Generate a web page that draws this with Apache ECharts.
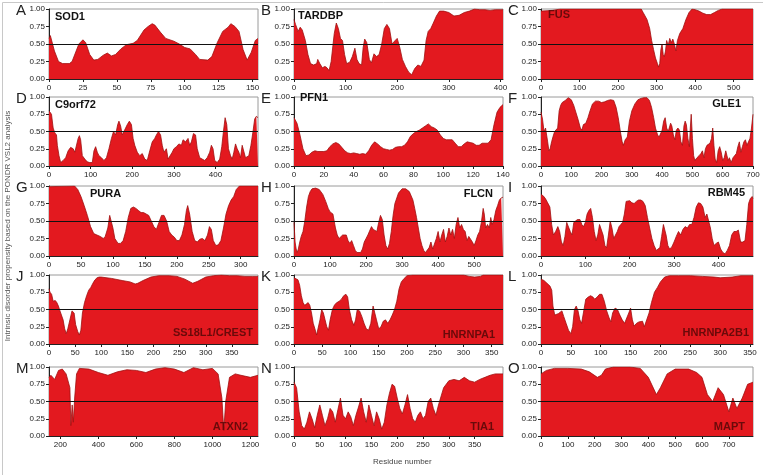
<!DOCTYPE html>
<html><head><meta charset="utf-8">
<script src="https://cdn.jsdelivr.net/npm/echarts@6/dist/echarts.min.js"></script>
<style>html,body{margin:0;padding:0;background:#fff}#c{width:763px;height:475px}</style>
</head><body><div id="c"></div>
<script>
// ---- data: [residue, disorder score] ----
const sod1 = [[0,0.58],[1,0.62],[4,0.40],[7,0.25],[8,0.24],[10,0.22],[15,0.22],[17,0.25],[20,0.40],[22,0.50],[25,0.56],[27,0.52],[30,0.35],[33,0.27],[36,0.28],[40,0.34],[43,0.37],[46,0.33],[49,0.35],[53,0.43],[57,0.49],[62,0.51],[65,0.55],[70,0.70],[73,0.75],[76,0.79],[78,0.77],[82,0.67],[86,0.58],[92,0.54],[96,0.50],[100,0.45],[104,0.43],[108,0.35],[111,0.28],[117,0.27],[120,0.32],[124,0.52],[128,0.68],[132,0.74],[134,0.79],[137,0.75],[140,0.68],[143,0.42],[146,0.27],[149,0.38],[152,0.55],[154,0.58]];
const tardbp = [[0,0.85],[3,0.78],[8,0.68],[12,0.74],[16,0.70],[22,0.55],[27,0.35],[32,0.22],[38,0.20],[44,0.22],[46,0.28],[50,0.22],[55,0.16],[60,0.18],[64,0.16],[68,0.12],[72,0.25],[78,0.65],[82,0.80],[86,0.72],[90,0.58],[94,0.55],[98,0.35],[102,0.22],[108,0.24],[113,0.32],[118,0.44],[122,0.28],[126,0.22],[131,0.20],[134,0.45],[137,0.57],[141,0.52],[146,0.28],[150,0.23],[155,0.36],[160,0.32],[165,0.35],[170,0.50],[175,0.72],[180,0.78],[185,0.72],[190,0.50],[196,0.55],[200,0.58],[205,0.45],[210,0.28],[216,0.18],[222,0.10],[228,0.06],[234,0.15],[240,0.20],[246,0.18],[252,0.27],[256,0.55],[260,0.68],[265,0.72],[270,0.80],[276,0.90],[282,0.97],[290,0.97],[300,0.95],[310,0.90],[320,0.91],[330,0.95],[340,0.97],[350,1.0],[360,0.99],[370,0.99],[380,0.98],[390,0.99],[405,0.99]];
const fus = [[0,0.97],[30,0.98],[50,1.0],[260,1.0],[265,0.95],[275,0.85],[282,0.72],[287,0.55],[292,0.42],[297,0.30],[302,0.22],[305,0.17],[308,0.22],[311,0.42],[314,0.50],[317,0.35],[320,0.32],[323,0.40],[326,0.55],[330,0.48],[334,0.58],[338,0.52],[342,0.57],[346,0.50],[350,0.40],[354,0.55],[360,0.65],[368,0.72],[376,0.85],[384,0.95],[392,1.0],[400,0.99],[410,0.97],[420,0.94],[430,0.92],[440,0.92],[450,0.95],[460,0.98],[470,1.0],[550,1.0]];
const c9orf72 = [[0,0.80],[3,0.82],[6,0.75],[10,0.55],[14,0.48],[18,0.45],[20,0.30],[24,0.15],[28,0.05],[34,0.08],[40,0.12],[46,0.22],[52,0.27],[58,0.25],[62,0.20],[66,0.22],[70,0.40],[73,0.44],[76,0.38],[80,0.15],[86,0.10],[92,0.06],[98,0.05],[104,0.05],[108,0.22],[112,0.28],[116,0.20],[120,0.15],[126,0.12],[132,0.08],[138,0.12],[144,0.25],[150,0.40],[155,0.50],[160,0.45],[165,0.60],[168,0.65],[172,0.58],[176,0.45],[180,0.50],[184,0.55],[188,0.60],[193,0.65],[198,0.60],[202,0.40],[206,0.30],[212,0.20],[218,0.15],[224,0.18],[230,0.10],[236,0.08],[242,0.22],[248,0.35],[254,0.40],[258,0.45],[263,0.50],[268,0.45],[272,0.30],[276,0.20],[282,0.25],[286,0.10],[290,0.08],[296,0.20],[300,0.25],[306,0.28],[312,0.32],[318,0.30],[322,0.38],[328,0.35],[334,0.40],[338,0.30],[342,0.35],[347,0.47],[352,0.45],[356,0.25],[362,0.12],[368,0.10],[374,0.08],[380,0.12],[386,0.20],[390,0.30],[394,0.25],[398,0.08],[404,0.05],[410,0.10],[415,0.28],[419,0.50],[423,0.70],[427,0.60],[431,0.25],[436,0.15],[440,0.10],[444,0.20],[448,0.32],[452,0.25],[456,0.20],[460,0.12],[464,0.30],[468,0.28],[472,0.12],[476,0.10],[480,0.15],[485,0.30],[490,0.50],[494,0.68],[498,0.72],[502,0.70]];
const pfn1 = [[0,0.70],[2,0.62],[4,0.45],[6,0.25],[8,0.15],[10,0.16],[12,0.20],[14,0.22],[16,0.21],[20,0.21],[22,0.22],[24,0.28],[26,0.32],[28,0.34],[30,0.32],[32,0.27],[34,0.22],[36,0.19],[38,0.18],[40,0.19],[42,0.18],[44,0.17],[46,0.18],[48,0.17],[50,0.22],[52,0.30],[54,0.35],[56,0.32],[58,0.28],[60,0.25],[62,0.24],[64,0.23],[66,0.24],[68,0.27],[70,0.28],[72,0.28],[74,0.30],[76,0.35],[78,0.43],[80,0.47],[82,0.50],[84,0.52],[86,0.55],[88,0.58],[90,0.61],[92,0.57],[94,0.55],[96,0.52],[98,0.45],[100,0.40],[102,0.38],[106,0.38],[108,0.33],[110,0.28],[112,0.28],[114,0.32],[116,0.35],[118,0.34],[120,0.33],[122,0.30],[124,0.30],[126,0.33],[128,0.33],[130,0.33],[132,0.38],[134,0.60],[136,0.78],[138,0.85],[140,0.89]];
const gle1 = [[0,0.78],[5,0.68],[10,0.50],[15,0.55],[18,0.55],[22,0.35],[26,0.22],[30,0.25],[35,0.35],[40,0.43],[45,0.50],[50,0.48],[55,0.55],[60,0.80],[65,0.88],[70,0.92],[80,0.95],[90,0.99],[100,0.96],[108,0.88],[115,0.78],[122,0.68],[130,0.55],[135,0.52],[140,0.60],[148,0.62],[155,0.70],[162,0.80],[170,0.90],[180,0.94],[190,0.94],[200,0.92],[210,0.93],[220,0.95],[230,0.96],[240,0.95],[248,0.85],[255,0.70],[262,0.50],[268,0.35],[272,0.30],[278,0.38],[285,0.42],[292,0.65],[300,0.80],[310,0.90],[320,0.96],[330,0.98],[340,0.99],[350,0.99],[358,0.95],[365,0.85],[372,0.70],[378,0.55],[385,0.45],[390,0.42],[395,0.40],[400,0.52],[405,0.65],[410,0.70],[415,0.55],[420,0.50],[425,0.48],[428,0.62],[432,0.58],[437,0.45],[442,0.38],[447,0.52],[452,0.55],[457,0.52],[462,0.35],[467,0.30],[472,0.58],[476,0.65],[480,0.60],[485,0.40],[490,0.28],[493,0.55],[496,0.75],[500,0.40],[504,0.15],[508,0.08],[515,0.12],[522,0.15],[528,0.18],[533,0.22],[538,0.12],[543,0.25],[548,0.30],[553,0.28],[558,0.33],[563,0.40],[567,0.55],[571,0.30],[575,0.10],[580,0.05],[585,0.22],[590,0.28],[595,0.20],[600,0.08],[605,0.12],[610,0.22],[614,0.15],[618,0.08],[622,0.12],[628,0.05],[634,0.12],[640,0.10],[645,0.18],[650,0.28],[655,0.35],[660,0.20],[665,0.28],[670,0.35],[675,0.38],[680,0.30],[685,0.35],[690,0.40],[695,0.55],[700,0.75]];
const pura = [[0,0.99],[40,1.0],[45,0.95],[50,0.85],[55,0.72],[60,0.58],[65,0.42],[70,0.32],[75,0.30],[80,0.28],[85,0.25],[88,0.28],[92,0.40],[95,0.58],[97,0.59],[100,0.40],[103,0.25],[108,0.18],[112,0.18],[116,0.22],[120,0.35],[124,0.55],[128,0.68],[132,0.70],[136,0.68],[140,0.65],[144,0.62],[148,0.62],[152,0.60],[156,0.58],[160,0.50],[164,0.42],[168,0.38],[172,0.48],[176,0.58],[180,0.58],[184,0.50],[188,0.35],[192,0.30],[196,0.27],[200,0.22],[204,0.22],[208,0.30],[212,0.45],[215,0.65],[217,0.72],[220,0.60],[224,0.35],[228,0.22],[232,0.20],[236,0.24],[240,0.25],[244,0.22],[248,0.30],[251,0.42],[254,0.38],[257,0.22],[261,0.15],[265,0.16],[269,0.22],[273,0.40],[277,0.60],[281,0.72],[285,0.80],[289,0.85],[293,0.95],[298,1.0],[327,1.0]];
const flcn = [[0,0.48],[3,0.20],[6,0.10],[9,0.05],[12,0.10],[16,0.20],[20,0.28],[25,0.35],[30,0.50],[35,0.70],[40,0.85],[45,0.92],[50,0.96],[60,0.97],[70,0.95],[80,0.88],[88,0.78],[95,0.68],[100,0.63],[108,0.60],[112,0.58],[115,0.40],[120,0.30],[125,0.25],[130,0.25],[135,0.30],[140,0.32],[145,0.30],[150,0.22],[155,0.18],[160,0.22],[165,0.15],[170,0.08],[175,0.05],[185,0.05],[190,0.10],[195,0.20],[200,0.25],[205,0.30],[210,0.32],[215,0.42],[220,0.38],[225,0.40],[230,0.35],[235,0.48],[240,0.58],[245,0.52],[250,0.30],[255,0.15],[260,0.10],[265,0.18],[270,0.35],[275,0.58],[280,0.75],[290,0.90],[300,0.96],[310,0.96],[320,0.92],[330,0.80],[335,0.68],[340,0.55],[345,0.40],[350,0.25],[355,0.15],[360,0.08],[365,0.05],[370,0.05],[375,0.12],[380,0.20],[385,0.10],[390,0.12],[395,0.25],[400,0.35],[405,0.20],[410,0.30],[415,0.38],[420,0.20],[425,0.28],[430,0.40],[435,0.30],[440,0.38],[445,0.25],[450,0.45],[455,0.55],[460,0.40],[465,0.45],[470,0.38],[475,0.35],[480,0.22],[485,0.28],[490,0.30],[495,0.20],[500,0.15],[505,0.22],[510,0.30],[515,0.35],[520,0.48],[525,0.68],[528,0.60],[532,0.40],[537,0.45],[542,0.40],[546,0.55],[550,0.45],[555,0.52],[560,0.65],[565,0.72],[570,0.80],[575,0.83],[580,0.84]];
const rbm45 = [[0,0.88],[5,0.86],[10,0.82],[15,0.76],[20,0.70],[24,0.45],[28,0.30],[33,0.35],[38,0.42],[42,0.35],[46,0.20],[50,0.15],[54,0.28],[58,0.48],[62,0.50],[66,0.35],[70,0.30],[74,0.48],[78,0.50],[82,0.52],[88,0.52],[92,0.45],[96,0.42],[100,0.48],[104,0.60],[108,0.65],[112,0.68],[116,0.55],[120,0.35],[124,0.22],[128,0.30],[132,0.45],[136,0.47],[140,0.30],[144,0.15],[148,0.12],[152,0.30],[156,0.50],[160,0.40],[164,0.25],[168,0.30],[172,0.35],[176,0.42],[180,0.45],[184,0.48],[188,0.60],[192,0.78],[196,0.80],[200,0.79],[205,0.76],[210,0.75],[215,0.78],[220,0.80],[225,0.80],[230,0.78],[235,0.72],[240,0.55],[245,0.40],[250,0.25],[255,0.15],[260,0.08],[264,0.07],[268,0.12],[272,0.28],[276,0.45],[278,0.47],[282,0.30],[286,0.15],[290,0.10],[295,0.13],[300,0.20],[305,0.28],[310,0.35],[315,0.30],[320,0.38],[325,0.42],[330,0.40],[335,0.45],[340,0.45],[345,0.55],[350,0.70],[355,0.76],[360,0.75],[365,0.70],[370,0.55],[374,0.60],[378,0.62],[382,0.40],[386,0.25],[390,0.15],[395,0.18],[400,0.20],[405,0.10],[410,0.05],[415,0.03],[420,0.08],[425,0.15],[430,0.30],[435,0.35],[440,0.35],[445,0.37],[450,0.20],[455,0.20],[460,0.22],[464,0.45],[468,0.75],[472,0.82],[476,0.85],[478,0.82]];
const ss18l1 = [[0,0.80],[2,0.75],[5,0.72],[8,0.62],[12,0.63],[15,0.60],[18,0.55],[21,0.48],[24,0.48],[27,0.35],[30,0.22],[33,0.15],[36,0.22],[40,0.35],[44,0.48],[46,0.50],[48,0.45],[51,0.28],[55,0.18],[58,0.13],[61,0.20],[64,0.45],[68,0.60],[72,0.70],[76,0.78],[80,0.82],[84,0.88],[88,0.93],[92,0.96],[96,0.97],[100,0.97],[120,0.95],[140,0.92],[155,0.90],[165,0.87],[170,0.88],[180,0.92],[195,0.97],[210,0.99],[230,0.99],[245,0.98],[260,0.94],[270,0.90],[275,0.88],[285,0.91],[300,0.97],[315,0.99],[330,1.0],[345,0.99],[360,0.99],[375,0.98],[390,0.98],[400,0.98]];
const hnrnpa1 = [[0,0.96],[3,0.96],[7,0.93],[10,0.85],[13,0.70],[16,0.60],[19,0.56],[22,0.58],[25,0.60],[28,0.56],[31,0.45],[34,0.30],[37,0.22],[40,0.13],[43,0.15],[46,0.35],[49,0.50],[52,0.45],[55,0.35],[58,0.25],[61,0.20],[64,0.35],[68,0.50],[72,0.57],[76,0.60],[80,0.62],[84,0.65],[88,0.70],[92,0.72],[95,0.68],[98,0.50],[102,0.35],[106,0.27],[109,0.35],[112,0.50],[116,0.48],[120,0.40],[124,0.30],[128,0.22],[132,0.20],[136,0.30],[140,0.55],[143,0.53],[146,0.35],[150,0.22],[154,0.25],[158,0.33],[162,0.35],[166,0.30],[170,0.35],[174,0.42],[178,0.50],[182,0.62],[186,0.80],[190,0.90],[195,0.95],[200,0.99],[210,1.0],[300,1.0],[310,0.98],[320,0.97],[330,0.98],[335,1.0],[370,1.0]];
const hnrnpa2b1 = [[0,0.94],[5,0.92],[10,0.88],[15,0.84],[18,0.78],[20,0.55],[23,0.42],[26,0.40],[29,0.44],[32,0.46],[35,0.48],[38,0.40],[42,0.30],[46,0.20],[50,0.15],[53,0.25],[56,0.50],[59,0.55],[62,0.48],[65,0.35],[68,0.30],[71,0.45],[75,0.65],[79,0.68],[83,0.70],[87,0.68],[90,0.65],[94,0.68],[98,0.72],[102,0.72],[106,0.62],[110,0.48],[114,0.38],[117,0.32],[120,0.45],[124,0.52],[128,0.50],[132,0.42],[136,0.35],[140,0.30],[143,0.30],[147,0.45],[150,0.52],[153,0.35],[156,0.26],[160,0.30],[164,0.32],[167,0.30],[170,0.33],[173,0.25],[177,0.35],[181,0.45],[185,0.60],[190,0.75],[195,0.82],[200,0.90],[207,0.97],[215,0.99],[230,0.99],[250,0.99],[270,0.98],[290,0.97],[300,0.96],[320,0.97],[335,0.99],[355,0.99]];
const atxn2 = [[140,0.85],[150,0.88],[170,0.82],[190,0.95],[210,0.97],[230,0.90],[250,0.70],[255,0.15],[262,0.45],[268,0.20],[275,0.55],[285,0.90],[300,0.98],[350,0.97],[400,0.92],[450,0.88],[500,0.93],[550,0.96],[600,0.95],[650,0.92],[700,0.97],[750,0.99],[800,0.97],[850,0.92],[900,0.99],[950,0.96],[1000,0.98],[1030,0.90],[1050,0.55],[1060,0.08],[1070,0.50],[1090,0.85],[1120,0.90],[1150,0.88],[1200,0.85],[1240,0.88]];
const tia1 = [[0,0.78],[5,0.70],[10,0.35],[15,0.15],[20,0.10],[25,0.20],[30,0.35],[35,0.25],[40,0.12],[45,0.30],[50,0.45],[55,0.30],[60,0.15],[65,0.25],[70,0.40],[75,0.35],[80,0.20],[85,0.38],[90,0.55],[95,0.30],[100,0.25],[105,0.35],[110,0.28],[115,0.15],[120,0.30],[125,0.42],[130,0.55],[135,0.35],[140,0.20],[145,0.45],[150,0.30],[155,0.15],[160,0.35],[165,0.25],[170,0.10],[175,0.20],[180,0.45],[185,0.62],[190,0.75],[195,0.72],[200,0.55],[205,0.40],[210,0.32],[215,0.45],[220,0.60],[225,0.40],[230,0.25],[235,0.20],[240,0.30],[245,0.35],[250,0.25],[255,0.30],[260,0.50],[265,0.55],[270,0.40],[275,0.30],[280,0.45],[290,0.70],[300,0.80],[310,0.82],[320,0.80],[330,0.85],[340,0.80],[350,0.78],[360,0.82],[370,0.85],[380,0.88],[390,0.90],[405,0.90]];
const mapt = [[0,0.90],[20,0.95],[50,0.98],[100,0.98],[150,0.97],[180,0.93],[210,0.85],[225,0.88],[240,0.97],[270,1.0],[330,1.0],[370,0.98],[400,0.85],[430,0.60],[445,0.70],[470,0.90],[500,0.97],[550,0.97],[580,0.92],[600,0.85],[620,0.60],[640,0.50],[660,0.70],[680,0.60],[700,0.35],[715,0.55],[730,0.40],[750,0.55],[770,0.75],[790,0.78]];

const panelLetters = ['A','B','C','D','E','F','G','H','I','J','K','L','M','N','O'];
const geneNames = ['SOD1','TARDBP','FUS','C9orf72','PFN1','GLE1','PURA','FLCN','RBM45','SS18L1/CREST','HNRNPA1','HNRNPA2B1','ATXN2','TIA1','MAPT'];
const seriesData = [sod1,tardbp,fus,c9orf72,pfn1,gle1,pura,flcn,rbm45,ss18l1,hnrnpa1,hnrnpa2b1,atxn2,tia1,mapt];
const xTickLabels = [
  [0,25,50,75,100,125,150],[0,100,200,300,400],[0,100,200,300,400,500],
  [0,100,200,300,400],[0,20,40,60,80,100,120,140],[0,100,200,300,400,500,600,700],
  [0,50,100,150,200,250,300],[0,100,200,300,400,500],[0,100,200,300,400],
  [0,50,100,150,200,250,300,350],[0,50,100,150,200,250,300,350],[0,50,100,150,200,250,300,350],
  [200,400,600,800,1000,1200],[0,50,100,150,200,250,300,350],[0,100,200,300,400,500,600,700]];
const xRanges = [[0,154],[0,405],[0,550],[0,502],[0,140],[0,700],[0,327],[0,580],[0,478],[0,400],[0,370],[0,355],[140,1240],[0,405],[0,790]];
const yTickLabels = [0,0.25,0.5,0.75,1];
const yAxisTitle = 'Intrinsic disorder propensity based on the PONDR VSL2 analysis';
const xAxisTitle = 'Residue number';

// ---- layout / style ----
const colLeft = [49,294,541], colWidth = [209,209,212];
const rowTop = [9,97,186,275,367], rowHeight = [70,69,70,69,69];
// gene-name placement: [x, y, align, dark]
const namePos = [[55,18,'left',0],[298,17,'left',0],[548,16,'left',1],[55,106,'left',0],[300,99,'left',0],[741,105,'right',0],[90,195,'left',0],[493,195,'right',0],[745,194,'right',0],[253,334,'right',1],[495,336,'right',1],[749,334,'right',1],[248,428,'right',1],[494,428,'right',1],[745,428,'right',1]];
const RED = '#e3191f', EDGE = '#a01010', DARK = '#6a0a0a';

const chart = echarts.init(document.getElementById('c'), null, {renderer:'canvas'});
const grids=[], xAxes=[], yAxes=[], series=[], graphics=[];
for (let i=0;i<15;i++){
  const r=Math.floor(i/3), c=i%3;
  grids.push({left:colLeft[c], top:rowTop[r], width:colWidth[c], height:rowHeight[r], show:true, borderColor:'#9a9a9a', borderWidth:1, backgroundColor:'#fff'});
  xAxes.push({type:'value', gridIndex:i, min:xRanges[i][0], max:xRanges[i][1],
    axisLine:{show:true,onZero:false,lineStyle:{color:'#222',width:1}},
    axisTick:{show:true,length:3,customValues:xTickLabels[i],lineStyle:{color:'#222'}},
    axisLabel:{customValues:xTickLabels[i],fontSize:8,color:'#222',fontFamily:'Arial',margin:5,formatter:v=>String(v)},
    splitLine:{show:false}});
  yAxes.push({type:'value', gridIndex:i, min:0, max:1,
    axisLine:{show:true,lineStyle:{color:'#222',width:1}},
    axisTick:{show:true,length:3,customValues:yTickLabels,lineStyle:{color:'#222'}},
    axisLabel:{customValues:yTickLabels,fontSize:8,color:'#222',fontFamily:'Arial',margin:4,formatter:v=>v.toFixed(2)},
    splitLine:{show:false}});
  series.push({type:'line', xAxisIndex:i, yAxisIndex:i, data:seriesData[i], symbol:'none', smooth:false,
    lineStyle:{color:EDGE,width:0.8}, areaStyle:{color:RED,opacity:1}, silent:true,
    markLine:{silent:true,symbol:'none',label:{show:false},lineStyle:{color:'#111',width:1,type:'solid'},data:[{yAxis:0.5}]}});
  const np=namePos[i];
  graphics.push({type:'text', left: np[2]==='left'?np[0]:undefined, right: np[2]==='right'?763-np[0]:undefined, top:np[1]-7, z:100,
    style:{text:geneNames[i], font:'bold 11px Arial', fill: np[3]?DARK:'#111'}});
  graphics.push({type:'text', left:colLeft[c]-33, top:rowTop[r]-6, z:100,
    style:{text:panelLetters[i], font:'15px Arial', fill:'#222'}});
}
graphics.push({type:'text', left:373, top:458, style:{text:xAxisTitle, font:'8px Arial', fill:'#444'}});
graphics.push({type:'text', x:4, y:226, rotation:Math.PI/2, style:{text:yAxisTitle, font:'8px Arial', fill:'#555', align:'center', verticalAlign:'top'}});
graphics.push({type:'rect', left:0, top:0, shape:{width:762, height:474}, style:{fill:'none', stroke:'#c8c8c8', lineWidth:1}});

chart.setOption({animation:false, backgroundColor:'#fff', grid:grids, xAxis:xAxes, yAxis:yAxes, series:series, graphic:graphics});
</script></body></html>
